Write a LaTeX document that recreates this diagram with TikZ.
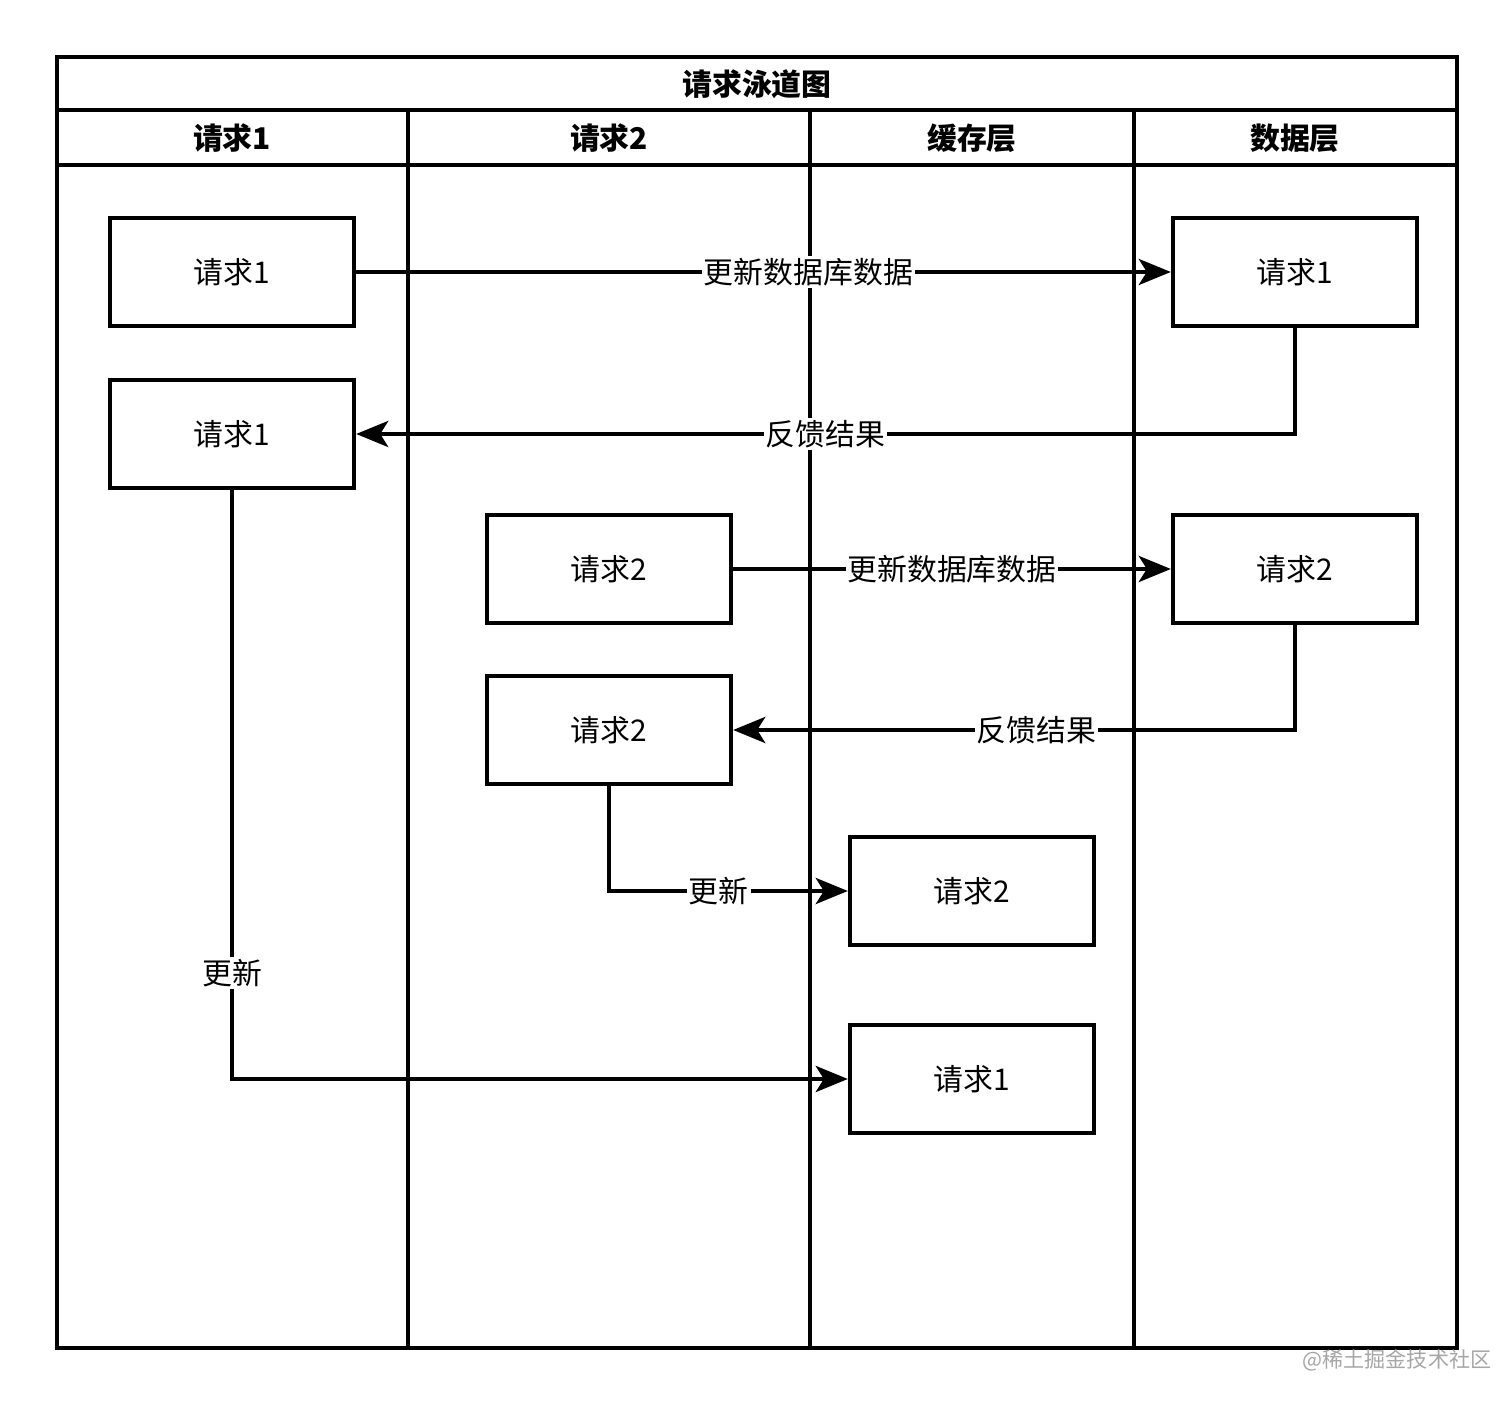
\documentclass[tikz,border=0pt]{standalone}
\usepackage{fontspec}
\setmainfont{Noto Sans CJK SC}
\usetikzlibrary{arrows.meta}
\tikzset{box/.style={draw,line width=1.2pt,minimum width=2.44cm,minimum height=1.08cm,font=\fontsize{8.5}{10}\selectfont},
  lane/.style={line width=1.2pt},
  hd/.style={font=\fontsize{8.5}{10}\selectfont\bfseries},
  lbl/.style={fill=white,inner sep=0.5pt,font=\fontsize{8.5}{10}\selectfont},
  conn/.style={line width=1.2pt,-{Stealth[length=3.2mm,width=2.6mm,inset=0.8mm]}}}

\begin{document}
\begin{tikzpicture}[x=0.01cm,y=-0.01cm]
\useasboundingbox (0,0) rectangle (1512,1404);
% lanes
\draw[lane] (57,57) rectangle (1457,1348);
\draw[lane] (57,110) -- (1457,110);
\draw[lane] (57,165) -- (1457,165);
\foreach \x in {408,810,1134} \draw[lane] (\x,110) -- (\x,1348);
\node[hd] (title) at (757,84) {请求泳道图};
\node[hd] (h1) at (232,138) {请求1};
\node[hd] (h2) at (609,138) {请求2};
\node[hd] (h3) at (972,138) {缓存层};
\node[hd] (h4) at (1295,138) {数据层};
% boxes
\node[box,fill=white] (r1a) at (232,272) {请求1};
\node[box,fill=white] (r1b) at (232,434) {请求1};
\node[box,fill=white] (d1) at (1295,272) {请求1};
\node[box,fill=white] (r2a) at (609,569) {请求2};
\node[box,fill=white] (d2) at (1295,569) {请求2};
\node[box,fill=white] (r2b) at (609,730) {请求2};
\node[box,fill=white] (c2) at (972,891) {请求2};
\node[box,fill=white] (c1) at (972,1079) {请求1};
% connectors
\draw[conn] (r1a) -- node[lbl,pos=0.555] {更新数据库数据} (d1);
\draw[conn] (d1.south) |- node[lbl,pos=0.75] {反馈结果} (r1b.east);
\draw[conn] (r2a) -- node[lbl] {更新数据库数据} (d2);
\draw[conn] (d2.south) |- node[lbl,pos=0.73] {反馈结果} (r2b.east);
\draw[conn] (r2b.south) |- node[lbl,pos=0.73] {更新} (c2.west);
\draw[conn] (r1b.south) |- node[lbl,pos=0.41] {更新} (c1.west);
\node[text=gray!70,font=\fontsize{6}{7}\selectfont] (wm) at (1397,1360) {@稀土掘金技术社区};
\end{tikzpicture}
\end{document}
